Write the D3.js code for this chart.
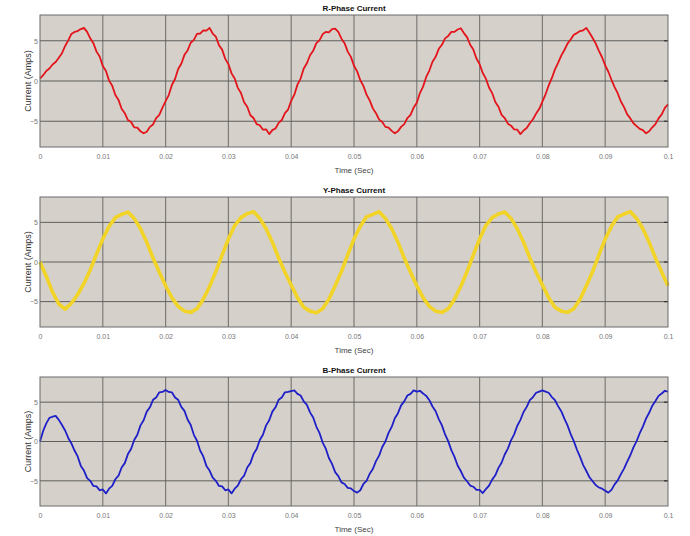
<!DOCTYPE html>
<html>
<head>
<meta charset="utf-8">
<script src="https://cdn.jsdelivr.net/npm/d3@7"></script>
<style>
  body { margin: 0; background: #fff; }
  svg { display: block; }
</style>
</head>
<body>
<div id="chart"></div>
<script>
// sample spacing (s)
const dtRB = 0.0005;
const dtY = 0.001;

const xTicks = [0, 0.01, 0.02, 0.03, 0.04, 0.05, 0.06, 0.07, 0.08, 0.09, 0.1];
const yTicks = [-5, 0, 5];

const titles = ['R-Phase Current', 'Y-Phase Current', 'B-Phase Current'];

// R phase, every 0.5 ms
const rPhase = [
  0.3, 0.72, 1.25, 1.55, 2.05, 2.35, 2.9, 3.45, 4.35, 5.05,
  5.85, 6.1, 6.2, 6.45, 6.6, 6.1, 5.3, 4.7, 3.65, 3.05,
  1.85, 1.25, 0.05, -0.6, -1.75, -2.35, -3.45, -4.0, -4.85, -5.1,
  -5.75, -5.8, -6.25, -6.5, -6.3, -5.7, -5.4, -4.6, -4.2, -3.3,
  -2.5, -1.75, -0.5, 0.25, 1.5, 2.15, 3.25, 3.8, 4.75, 5.1,
  5.85, 5.9, 6.3, 6.25, 6.6, 5.9, 5.5, 4.45, 3.9, 2.75,
  2.1, 0.95, 0.3, -0.85, -1.5, -2.65, -3.2, -4.25, -4.6, -5.35,
  -5.5, -6.05, -6.0, -6.6, -6.1, -5.9, -5.2, -4.85, -4.0, -3.55,
  -2.45, -1.7, -0.45, 0.3, 1.55, 2.2, 3.2, 3.75, 4.7, 5.05,
  5.8, 6.1, 6.05, 6.45, 6.5, 6.1, 5.25, 4.7, 3.65, 3.0,
  1.9, 1.2, 0.1, -0.6, -1.7, -2.4, -3.4, -4.0, -4.8, -5.1,
  -5.7, -5.8, -6.2, -6.5, -6.25, -5.7, -5.35, -4.6, -4.2, -3.3,
  -2.7, -1.5, -0.7, 0.5, 1.3, 2.4, 3.0, 4.0, 4.5, 5.3,
  5.6, 6.1, 6.1, 6.4, 6.55, 5.95, 5.45, 4.5, 3.9, 2.8,
  2.1, 1.0, 0.3, -0.8, -1.5, -2.6, -3.2, -4.2, -4.6, -5.3,
  -5.55, -6.0, -6.05, -6.6, -6.15, -5.85, -5.25, -4.75, -4.05, -3.45,
  -2.55, -1.65, -0.55, 0.35, 1.45, 2.25, 3.15, 3.85, 4.65, 5.15,
  5.75, 5.95, 6.2, 6.3, 6.6, 6.0, 5.35, 4.65, 3.75, 2.95,
  1.95, 1.15, 0.15, -0.75, -1.55, -2.55, -3.25, -4.15, -4.65, -5.25,
  -5.6, -5.95, -6.1, -6.5, -6.25, -5.75, -5.35, -4.65, -4.15, -3.35,
  -2.9
];

// Y phase, every 1 ms
const yPhase = [
  0, -1.8, -3.8, -5.3, -5.95, -5.2, -4.1, -2.7, -1.0, 1.0,
  2.9, 4.5, 5.6, 6.0, 6.3, 5.5, 4.2, 2.5, 0.5, -1.3,
  -3.0, -4.5, -5.6, -6.2, -6.35, -5.9, -4.7, -3.1, -1.2, 0.9,
  2.9, 4.6, 5.6, 6.1, 6.35, 5.5, 4.2, 2.5, 0.5, -1.3,
  -2.9, -4.5, -5.7, -6.2, -6.4, -5.9, -4.7, -3.0, -1.2, 0.9,
  2.9, 4.5, 5.7, 6.0, 6.35, 5.5, 4.2, 2.5, 0.5, -1.3,
  -3.0, -4.5, -5.6, -6.2, -6.35, -5.9, -4.7, -3.1, -1.2, 0.9,
  2.9, 4.6, 5.6, 6.05, 6.3, 5.5, 4.2, 2.5, 0.5, -1.3,
  -2.9, -4.5, -5.7, -6.2, -6.35, -5.9, -4.7, -3.0, -1.2, 0.9,
  2.9, 4.5, 5.7, 6.05, 6.35, 5.5, 4.2, 2.5, 0.5, -1.3,
  -3.0
];

// B phase, every 0.5 ms
const bPhase = [
  0.0, 1.35, 2.3, 3.0, 3.15, 3.25, 2.75, 2.1, 1.4, 0.45,
  -0.25, -1.15, -1.9, -3.1, -3.7, -4.65, -5.0, -5.65, -5.7, -6.2,
  -6.1, -6.6, -6.0, -5.65, -4.8, -4.35, -3.3, -2.75, -1.6, -0.95,
  0.2, 0.85, 2.05, 2.7, 3.8, 4.35, 5.3, 5.6, 6.25, 6.3,
  6.55, 6.3, 6.25, 5.6, 5.3, 4.4, 3.9, 2.8, 2.1, 0.85,
  0.1, -1.15, -1.9, -3.1, -3.7, -4.6, -5.0, -5.65, -5.7, -6.2,
  -6.1, -6.6, -6.0, -5.6, -4.8, -4.35, -3.3, -2.75, -1.6, -0.95,
  0.2, 0.85, 2.05, 2.7, 3.8, 4.35, 5.3, 5.6, 6.25, 6.3,
  6.4, 6.5, 6.05, 5.85, 5.1, 4.65, 3.7, 3.05, 1.9, 1.1,
  -0.1, -0.9, -2.1, -2.85, -3.9, -4.4, -5.2, -5.4, -5.9, -5.95,
  -6.3, -6.5, -6.2, -5.4, -5.0, -4.1, -3.5, -2.5, -1.8, -0.7,
  0.0, 1.1, 1.85, 2.95, 3.6, 4.6, 5.1, 5.85, 6.05, 6.5,
  6.35, 6.45, 6.1, 5.8, 5.25, 4.45, 3.85, 2.85, 2.05, 0.9,
  0.05, -1.1, -1.95, -3.05, -3.75, -4.6, -5.05, -5.6, -5.75, -6.15,
  -6.15, -6.55, -6.05, -5.6, -4.85, -4.3, -3.35, -2.7, -1.65, -0.9,
  0.15, 0.9, 2.0, 2.75, 3.75, 4.4, 5.25, 5.65, 6.2, 6.35,
  6.5, 6.35, 6.2, 5.65, 5.25, 4.5, 3.85, 2.9, 2.05, 0.95,
  0.05, -1.05, -1.95, -3.0, -3.75, -4.55, -5.05, -5.55, -5.85, -6.0,
  -6.25, -6.5, -6.15, -5.45, -4.95, -4.15, -3.45, -2.55, -1.75, -0.75,
  0.05, 1.05, 1.9, 2.9, 3.65, 4.55, 5.15, 5.8, 6.1, 6.45,
  6.35
];

const WIDTH = 690;
const HEIGHT = 536;
const LEFT = 40;
const RIGHT = 668;
const FONT = '"Liberation Sans Narrow", "Liberation Sans", Arial, sans-serif';

const panels = [
  { title: titles[0], data: rPhase, dt: dtRB, color: '#e3141b', width: 1.8, top: 15, bottom: 147 },
  { title: titles[1], data: yPhase, dt: dtY, color: '#f1d427', width: 3.6, top: 197, bottom: 327 },
  { title: titles[2], data: bPhase, dt: dtRB, color: '#1f1fc8', width: 1.8, top: 377, bottom: 506 },
];

const svg = d3
  .select('#chart')
  .append('svg')
  .attr('width', WIDTH)
  .attr('height', HEIGHT);

const x = d3.scaleLinear().domain([0, 0.1]).range([LEFT, RIGHT]);

panels.forEach((p) => {
  const y = d3.scaleLinear().domain([-8.2, 8.2]).range([p.bottom, p.top]);
  const g = svg.append('g');

  // plot area
  g.append('rect')
    .attr('x', LEFT)
    .attr('y', p.top)
    .attr('width', RIGHT - LEFT)
    .attr('height', p.bottom - p.top)
    .attr('fill', '#d5d1ca');

  // grid
  g.selectAll('.vgrid')
    .data(xTicks.slice(1, -1))
    .join('line')
    .attr('x1', (d) => x(d))
    .attr('x2', (d) => x(d))
    .attr('y1', p.top)
    .attr('y2', p.bottom)
    .attr('stroke', '#7d7b78')
    .attr('stroke-width', 1.2);
  g.selectAll('.hgrid')
    .data(yTicks)
    .join('line')
    .attr('x1', LEFT)
    .attr('x2', RIGHT)
    .attr('y1', (d) => y(d))
    .attr('y2', (d) => y(d))
    .attr('stroke', '#5f5e5c')
    .attr('stroke-width', 1);

  // right side inner ticks
  g.selectAll('.rtick')
    .data(yTicks)
    .join('line')
    .attr('x1', RIGHT - 4)
    .attr('x2', RIGHT)
    .attr('y1', (d) => y(d))
    .attr('y2', (d) => y(d))
    .attr('stroke', '#333')
    .attr('stroke-width', 1.2);

  // curve
  const line = d3
    .line()
    .x((d, i) => x(i * p.dt))
    .y((d) => y(d));
  g.append('path')
    .datum(p.data)
    .attr('d', line)
    .attr('fill', 'none')
    .attr('stroke', p.color)
    .attr('stroke-width', p.width)
    .attr('stroke-linejoin', 'round');

  // border
  g.append('rect')
    .attr('x', LEFT)
    .attr('y', p.top)
    .attr('width', RIGHT - LEFT)
    .attr('height', p.bottom - p.top)
    .attr('fill', 'none')
    .attr('stroke', '#6a6a6a')
    .attr('stroke-width', 1);

  // axes
  const axX = g
    .append('g')
    .attr('transform', `translate(0,${p.bottom})`)
    .call(d3.axisBottom(x).tickValues(xTicks).tickSize(0).tickPadding(7).tickFormat(d3.format('')));
  const axY = g
    .append('g')
    .attr('transform', `translate(${LEFT},0)`)
    .call(d3.axisLeft(y).tickValues(yTicks).tickSize(0).tickPadding(2));
  [axX, axY].forEach((a) => {
    a.select('.domain').remove();
    a.selectAll('text')
      .attr('font-family', FONT)
      .attr('font-size', 7)
      .attr('fill', '#777');
  });

  // labels
  g.append('text')
    .attr('x', (LEFT + RIGHT) / 2)
    .attr('y', p.top - 4)
    .attr('text-anchor', 'middle')
    .attr('font-family', FONT)
    .attr('font-size', 8)
    .attr('font-weight', 'bold')
    .attr('fill', '#111')
    .text(p.title);

  g.append('text')
    .attr('x', (LEFT + RIGHT) / 2)
    .attr('y', p.bottom + 26)
    .attr('text-anchor', 'middle')
    .attr('font-family', FONT)
    .attr('font-size', 8)
    .attr('fill', '#444')
    .text('Time (Sec)');

  g.append('text')
    .attr('transform', `translate(31,${(p.top + p.bottom) / 2}) rotate(-90)`)
    .attr('text-anchor', 'middle')
    .attr('font-family', '"Liberation Sans", Arial, sans-serif')
    .attr('font-size', 9)
    .attr('fill', '#333')
    .text('Current (Amps)');
});
</script>
</body>
</html>
